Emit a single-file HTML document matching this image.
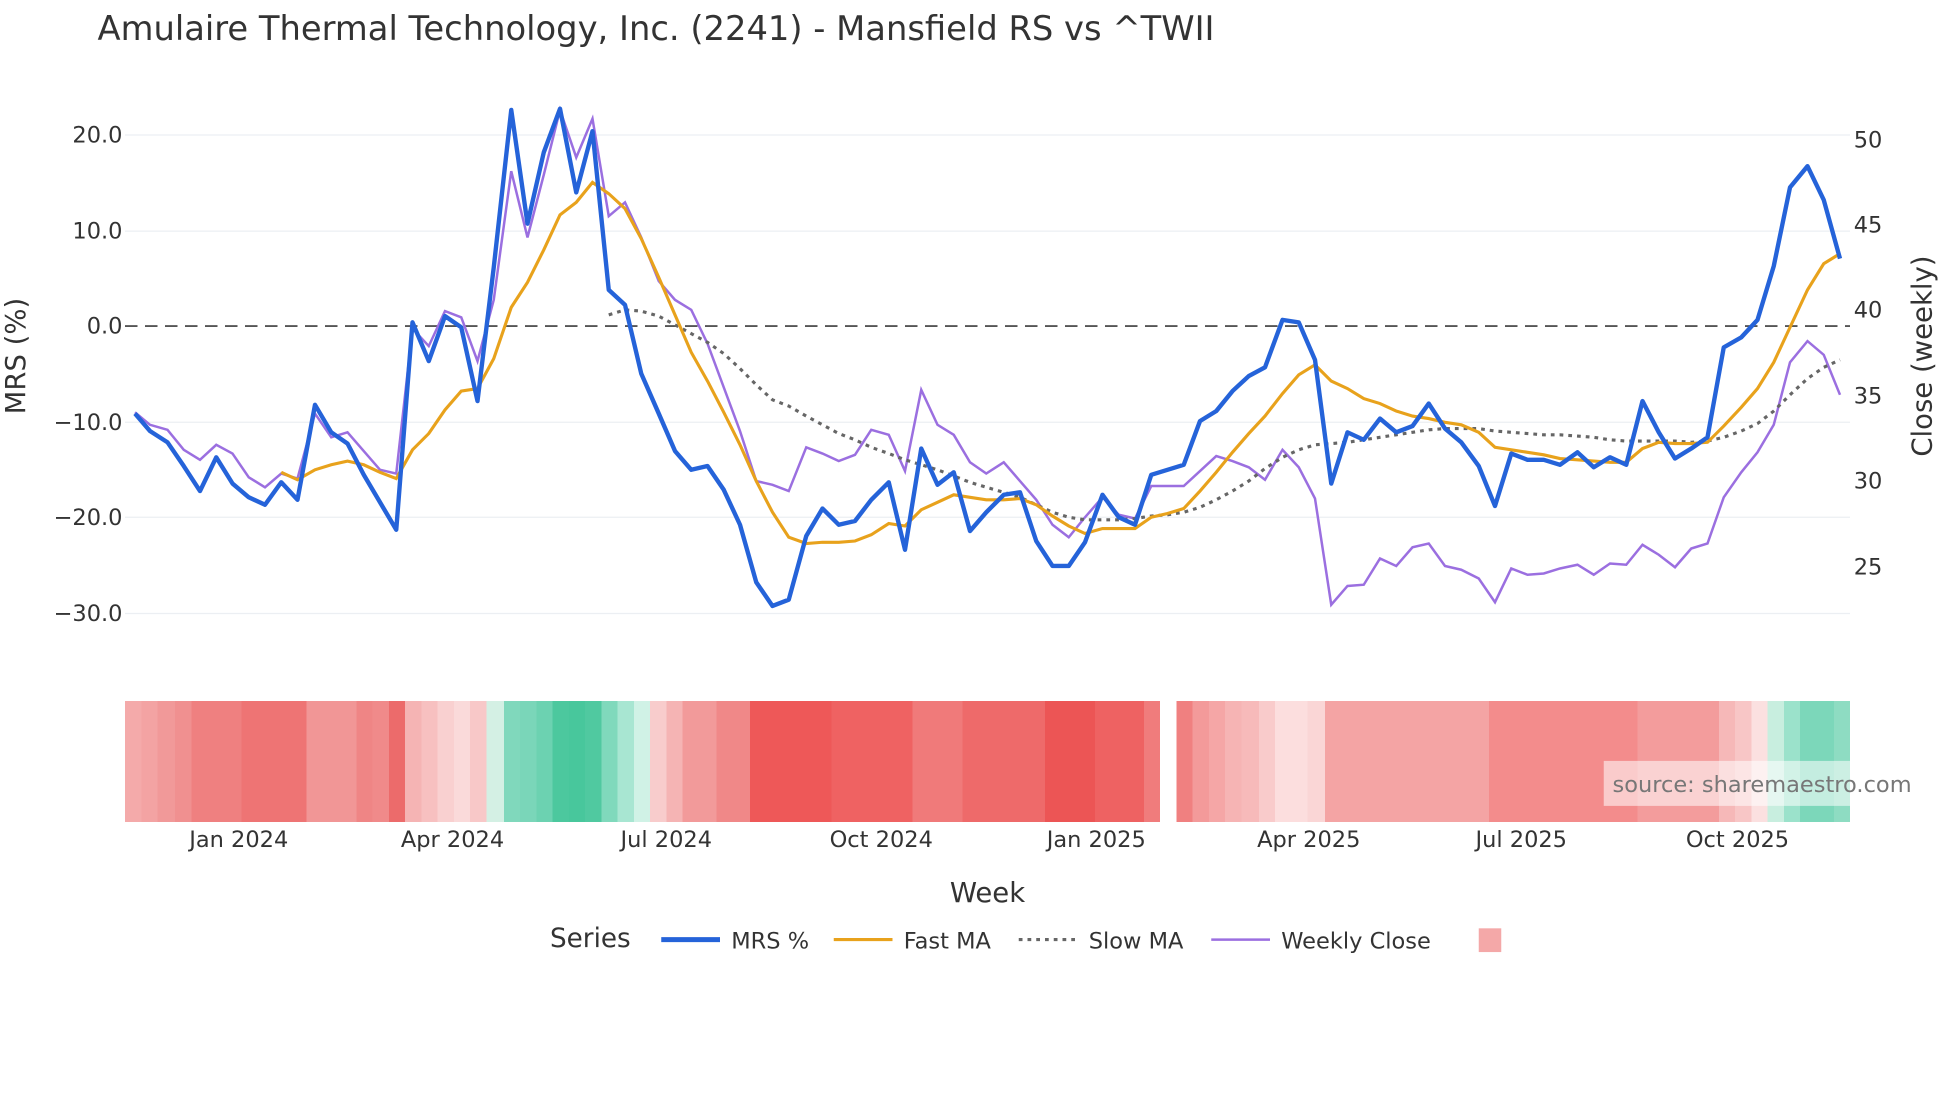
<!DOCTYPE html>
<html><head><meta charset="utf-8"><style>
html,body{margin:0;padding:0;background:#fff;width:1960px;height:1102px;overflow:hidden}
svg{display:block}
text{font-family:"DejaVu Sans","Liberation Sans",sans-serif}
</style></head><body>
<svg width="1960" height="1102" viewBox="0 0 1568 882" preserveAspectRatio="none" xmlns="http://www.w3.org/2000/svg">
<rect width="1568" height="882" fill="#fff"/>
<text x="78" y="32" font-size="27" fill="#333">Amulaire Thermal Technology, Inc. (2241) - Mansfield RS vs ^TWII</text>
<g stroke="#eceff3" stroke-width="1">
<line x1="100" x2="1480" y1="108" y2="108"/><line x1="100" x2="1480" y1="185" y2="185"/>
<line x1="100" x2="1480" y1="338" y2="338"/><line x1="100" x2="1480" y1="414" y2="414"/>
<line x1="100" x2="1480" y1="491" y2="491"/>
</g>
<line x1="100" x2="1480" y1="261" y2="261" stroke="#555" stroke-width="1.5" stroke-dasharray="10,6"/>
<g font-size="18" text-anchor="end" fill="#333">
<text x="98" y="114">20.0</text><text x="98" y="191">10.0</text><text x="98" y="267">0.0</text>
<text x="98" y="344">−10.0</text><text x="98" y="420">−20.0</text><text x="98" y="497">−30.0</text>
</g>
<g font-size="18" fill="#333">
<text x="1483" y="118">50</text><text x="1483" y="186">45</text><text x="1483" y="254">40</text>
<text x="1483" y="323">35</text><text x="1483" y="391">30</text><text x="1483" y="460">25</text>
</g>
<text transform="translate(20,285) rotate(-90)" font-size="22" text-anchor="middle" fill="#333">MRS (%)</text>
<text transform="translate(1545,285) rotate(-90)" font-size="22" text-anchor="middle" fill="#333">Close (weekly)</text>

<polyline fill="none" stroke="#9b6fe0" stroke-width="2" points="108,330 120,340 134,344 147,360 160,368 173,356 186,363 199,382 212,390 225,379 238,383 252,331 265,350 278,346 291,361 304,376 317,379 330,263 343,277 356,249 369,254 382,289 395,240 409,137 422,190 435,140 448,88 461,126 474,95 487,173 500,162 513,190 527,225 540,240 553,248 566,275 579,310 592,345 605,385 618,388 631,393 645,358 658,363 671,369 684,364 697,344 711,348 724,377 737,312 750,340 763,348 776,370 789,379 803,370 816,385 829,400 842,420 855,430 868,414 882,398 895,412 908,415 921,389 934,389 947,389 960,377 973,365 986,369 999,374 1012,384 1026,360 1039,374 1052,399 1065,484 1078,469 1091,468 1104,447 1117,453 1130,438 1143,435 1156,453 1169,456 1183,463 1196,482 1209,455 1222,460 1235,459 1248,455 1262,452 1275,460 1288,451 1301,452 1314,436 1327,444 1340,454 1353,439 1366,435 1379,398 1393,378 1406,362 1419,340 1432,290 1446,273 1459,284 1472,316"/>
<polyline fill="none" stroke="#666" stroke-width="2.5" stroke-dasharray="3,4" points="487,252 500,248 513,249 527,253 540,260 553,267 566,274 579,283 592,295 605,308 618,320 631,325 645,333 658,340 671,347 684,352 697,358 711,363 724,368 737,372 750,376 763,381 776,386 789,390 803,394 816,398 829,404 842,410 855,414 868,416 882,416 895,416 908,415 921,413 934,412 947,410 960,406 973,400 986,393 999,385 1012,375 1026,366 1039,360 1052,356 1065,355 1078,354 1091,352 1104,350 1117,348 1130,346 1143,344 1156,343 1169,343 1183,343 1196,345 1209,346 1222,347 1235,348 1248,348 1262,349 1275,350 1288,352 1301,353 1314,353 1327,353 1340,353 1353,354 1366,353 1379,350 1393,345 1406,339 1419,329 1432,316 1446,303 1459,294 1472,288"/>
<polyline fill="none" stroke="#e8a21c" stroke-width="2.5" points="225,378 238,384 252,376 265,372 278,369 291,372 304,378 317,383 330,360 343,347 356,328 369,313 382,311 395,287 409,246 422,226 435,200 448,172 461,162 474,146 487,155 500,167 513,191 527,222 540,252 553,282 566,305 579,330 592,356 605,385 618,410 631,430 645,435 658,434 671,434 684,433 697,428 711,419 724,421 737,408 750,402 763,396 776,398 789,400 803,400 816,399 829,404 842,413 855,421 868,427 882,423 895,423 908,423 921,414 934,411 947,407 960,393 973,378 986,362 999,347 1012,333 1026,315 1039,300 1052,292 1065,305 1078,311 1091,319 1104,323 1117,329 1130,333 1143,335 1156,338 1169,340 1183,346 1196,358 1209,360 1222,362 1235,364 1248,367 1262,368 1275,369 1288,370 1301,370 1314,359 1327,354 1340,355 1353,355 1366,354 1379,341 1393,326 1406,311 1419,290 1432,262 1446,232 1459,211 1472,203"/>
<polyline fill="none" stroke="#2563d9" stroke-width="3.5" stroke-linejoin="round" points="108,331 120,345 134,354 147,373 160,393 173,366 186,387 199,398 212,404 225,386 238,400 252,324 265,346 278,355 291,380 304,402 317,424 330,258 343,289 356,253 369,262 382,321 395,214 409,88 422,179 435,122 448,87 461,154 474,105 487,232 500,244 513,299 527,331 540,361 553,376 566,373 579,392 592,420 605,466 618,485 631,480 645,429 658,407 671,420 684,417 697,400 711,386 724,440 737,359 750,388 763,378 776,425 789,410 803,396 816,394 829,433 842,453 855,453 868,434 882,396 895,414 908,420 921,380 934,376 947,372 960,337 973,329 986,313 999,301 1012,294 1026,256 1039,258 1052,288 1065,387 1078,346 1091,352 1104,335 1117,346 1130,341 1143,323 1156,343 1169,354 1183,373 1196,405 1209,363 1222,368 1235,368 1248,372 1262,362 1275,374 1288,366 1301,372 1314,321 1327,346 1340,367 1353,359 1366,350 1379,278 1393,270 1406,256 1419,213 1432,150 1446,133 1459,160 1472,207"/>

<g shape-rendering="crispEdges">
<rect x="100" y="561" width="14" height="97" fill="#f4aaaa"/><rect x="113" y="561" width="14" height="97" fill="#f3a3a3"/>
<rect x="126" y="561" width="15" height="97" fill="#f19999"/><rect x="140" y="561" width="14" height="97" fill="#f09090"/>
<rect x="153" y="561" width="41" height="97" fill="#ef8080"/><rect x="193" y="561" width="53" height="97" fill="#ee7474"/>
<rect x="245" y="561" width="41" height="97" fill="#f19696"/><rect x="285" y="561" width="14" height="97" fill="#ef8585"/>
<rect x="298" y="561" width="14" height="97" fill="#f08a8a"/><rect x="311" y="561" width="14" height="97" fill="#ec6b6b"/>
<rect x="324" y="561" width="14" height="97" fill="#f5b4b4"/><rect x="337" y="561" width="14" height="97" fill="#f7c0c0"/>
<rect x="350" y="561" width="14" height="97" fill="#f9d0d0"/><rect x="363" y="561" width="14" height="97" fill="#fadada"/>
<rect x="376" y="561" width="14" height="97" fill="#f8c8c8"/><rect x="389" y="561" width="15" height="97" fill="#d4f0e4"/>
<rect x="403" y="561" width="14" height="97" fill="#80d8bc"/><rect x="416" y="561" width="14" height="97" fill="#7ad6b9"/>
<rect x="429" y="561" width="14" height="97" fill="#6cd2b1"/><rect x="442" y="561" width="14" height="97" fill="#4cc89e"/>
<rect x="455" y="561" width="14" height="97" fill="#48c79c"/><rect x="468" y="561" width="14" height="97" fill="#50c9a0"/>
<rect x="481" y="561" width="14" height="97" fill="#80d9bc"/><rect x="494" y="561" width="14" height="97" fill="#a8e6d2"/>
<rect x="507" y="561" width="14" height="97" fill="#d0f2e6"/><rect x="520" y="561" width="14" height="97" fill="#f8cccc"/>
<rect x="533" y="561" width="14" height="97" fill="#f5b4b4"/><rect x="546" y="561" width="28" height="97" fill="#f29a9a"/>
<rect x="573" y="561" width="28" height="97" fill="#f08888"/><rect x="600" y="561" width="66" height="97" fill="#ee5858"/>
<rect x="665" y="561" width="66" height="97" fill="#ef6262"/><rect x="730" y="561" width="41" height="97" fill="#f07a7a"/>
<rect x="770" y="561" width="67" height="97" fill="#ee6a6a"/><rect x="836" y="561" width="41" height="97" fill="#ec5555"/>
<rect x="876" y="561" width="40" height="97" fill="#ee6262"/><rect x="915" y="561" width="13" height="97" fill="#f07c7c"/>
<rect x="941" y="561" width="14" height="97" fill="#f08080"/><rect x="954" y="561" width="14" height="97" fill="#f39a9a"/>
<rect x="967" y="561" width="14" height="97" fill="#f5a6a6"/><rect x="980" y="561" width="14" height="97" fill="#f6b4b4"/>
<rect x="993" y="561" width="15" height="97" fill="#f7baba"/><rect x="1007" y="561" width="14" height="97" fill="#f9cbcb"/>
<rect x="1020" y="561" width="27" height="97" fill="#fcdede"/><rect x="1046" y="561" width="15" height="97" fill="#fad6d6"/>
<rect x="1060" y="561" width="132" height="97" fill="#f4a4a4"/><rect x="1191" y="561" width="120" height="97" fill="#f38c8c"/>
<rect x="1310" y="561" width="66" height="97" fill="#f39c9c"/><rect x="1375" y="561" width="14" height="97" fill="#f6b8b8"/>
<rect x="1388" y="561" width="14" height="97" fill="#f8c6c6"/><rect x="1401" y="561" width="14" height="97" fill="#fbe0e0"/>
<rect x="1414" y="561" width="14" height="97" fill="#c8eedf"/><rect x="1427" y="561" width="14" height="97" fill="#9be2cb"/>
<rect x="1440" y="561" width="28" height="97" fill="#7cd7ba"/><rect x="1467" y="561" width="13" height="97" fill="#8edcc2"/>
</g>
<rect x="1283" y="609" width="285" height="36" fill="#fff" fill-opacity="0.55"/>
<text x="1290" y="634" font-size="18" fill="#777">source: sharemaestro.com</text>

<g font-size="18" text-anchor="middle" fill="#333">
<text x="191" y="678">Jan 2024</text><text x="362" y="678">Apr 2024</text><text x="533" y="678">Jul 2024</text>
<text x="705" y="678">Oct 2024</text><text x="877" y="678">Jan 2025</text><text x="1047" y="678">Apr 2025</text>
<text x="1217" y="678">Jul 2025</text><text x="1390" y="678">Oct 2025</text>
</g>
<text x="790" y="722" font-size="22" text-anchor="middle" fill="#333">Week</text>

<text x="440" y="758" font-size="21" fill="#333">Series</text>
<line x1="529" x2="576" y1="752" y2="752" stroke="#2563d9" stroke-width="4"/>
<text x="585" y="759" font-size="18" fill="#333">MRS %</text>
<line x1="667" x2="714" y1="752" y2="752" stroke="#e8a21c" stroke-width="2.5"/>
<text x="723" y="759" font-size="18" fill="#333">Fast MA</text>
<line x1="815" x2="860" y1="752" y2="752" stroke="#666" stroke-width="2.5" stroke-dasharray="3,4"/>
<text x="871" y="759" font-size="18" fill="#333">Slow MA</text>
<line x1="969" x2="1016" y1="752" y2="752" stroke="#9b6fe0" stroke-width="2"/>
<text x="1025" y="759" font-size="18" fill="#333">Weekly Close</text>
<rect x="1183" y="743" width="18" height="19" fill="#f4a8a8"/>
</svg>
</body></html>
